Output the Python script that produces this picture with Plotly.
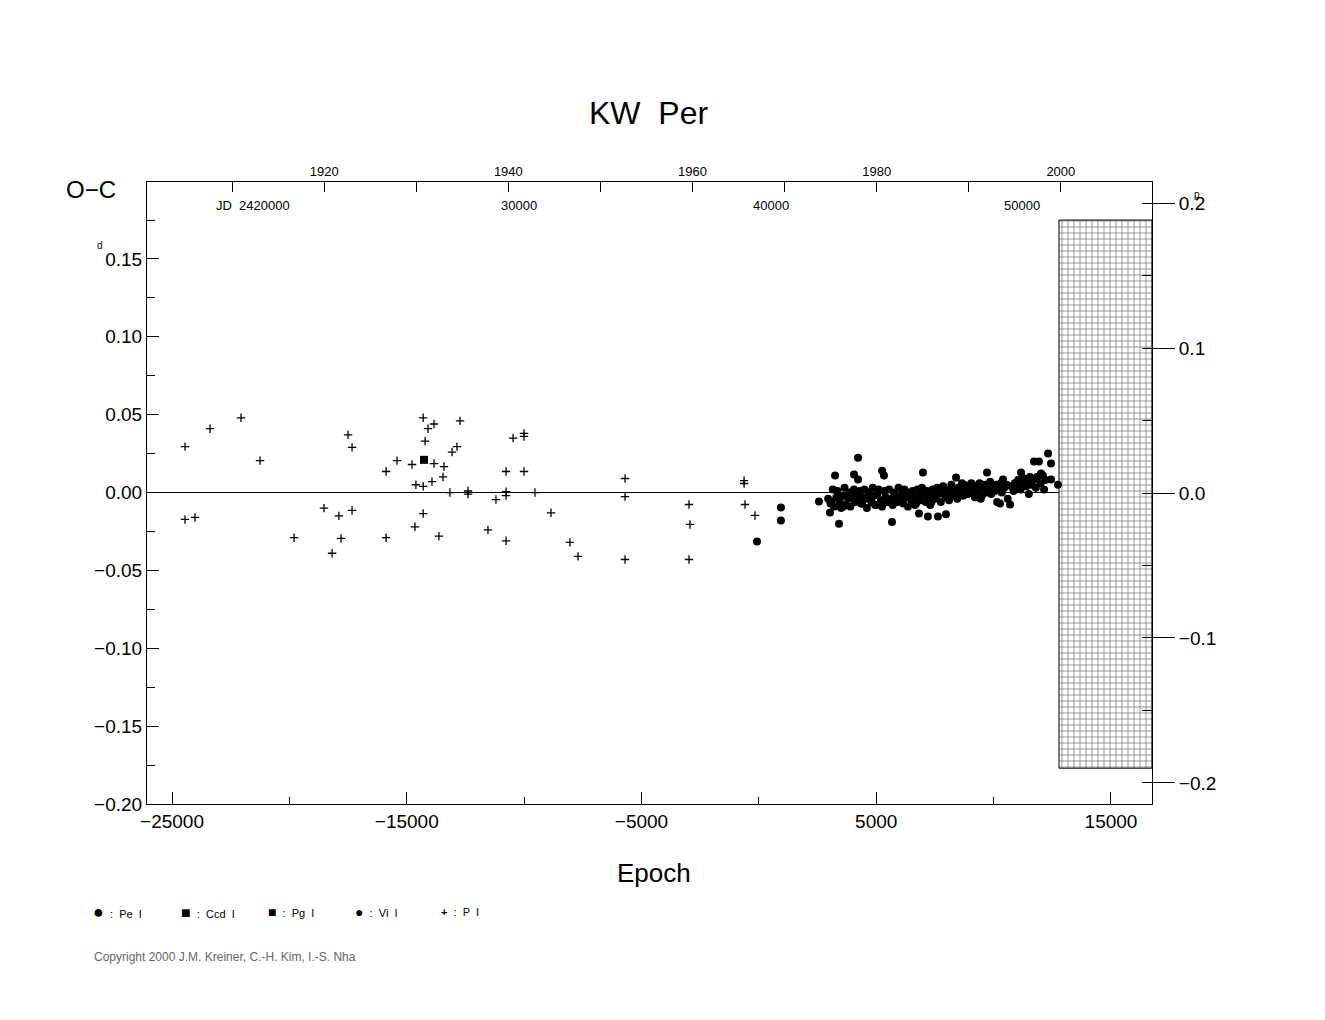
import plotly.graph_objects as go

# photographic (P) timings: epoch, O-C [d]
p_epoch = [-24446, -24446, -24020, -23380, -22060, -21250, -19800, -18525, -18180, -17890,
           -17800, -17500, -17330, -17330, -15880, -15880, -15415, -14775, -14650, -14610,
           -14300, -14300, -14300, -14220, -14095, -13925, -13840, -13840, -13630, -13455,
           -13415, -13160, -13070, -12860, -12730, -12390, -12390, -11540, -11200, -10770,
           -10770, -10770, -10770, -10470, -10005, -10005, -10005, -9540, -8855, -8050,
           -7705, -5700, -5700, -5700, -2975, -2935, -2975, -630, -630, -590, -165]
p_oc = [0.0295, -0.0173, -0.016, 0.041, 0.048, 0.0205, -0.029, -0.010, -0.039, -0.015,
        -0.0295, 0.037, 0.029, -0.0115, 0.0135, -0.029, 0.0205, 0.018, -0.022, 0.005,
        0.048, 0.004, -0.0135, 0.033, 0.041, 0.007, 0.044, 0.0186, -0.028, 0.010,
        0.0167, 0.0, 0.026, 0.0295, 0.046, 0.001, -0.001, -0.024, -0.0045, 0.0006,
        0.0135, -0.031, -0.002, 0.035, 0.038, 0.036, 0.0135, 0.0, -0.013, -0.032,
        -0.041, 0.009, -0.0026, -0.043, -0.0077, -0.0205, -0.043, 0.0077, 0.0058, -0.0077, -0.0147]

# CCD timing
ccd_epoch = [-14265]
ccd_oc = [0.021]

# photoelectric (Pe) timings
pe_epoch = [-80, 940, 940, 2560, 4225, 3245, 4055, 4225, 5250, 5330, 6990, 5670, 3415, 3030,
            6820, 7200, 7630, 7970, 8400, 9720, 10400, 10270, 10700, 11170, 11720, 11930,
            12320, 12445, 12020, 12445, 12740,
            2950, 3050, 3150, 3200, 3300, 3350, 3450, 3500, 3600, 3650, 3700, 3800, 3850,
            3900, 4000, 4050, 4100, 4150, 4250, 4300, 4400, 4450, 4500, 4600, 4650, 4700,
            4800, 4850, 4900, 5000, 5050, 5100, 5200, 5250, 5350, 5400, 5450, 5550, 5600,
            5700, 5750, 5800, 5900, 5950, 6000, 6100, 6150, 6200, 6300, 6350, 6400, 6500,
            6550, 6600, 6700, 6750, 6850, 6900, 6950, 7050, 7100, 7150, 7250, 7300, 7400,
            7450, 7500, 7600, 7650, 7750, 7800, 7850, 7950, 8000, 8100, 8150, 8200, 8300,
            8350, 8450, 8500, 8550, 8650, 8700, 8800, 8850, 8900, 9000, 9050, 9150, 9200,
            9250, 9350, 9400, 9500, 9550, 9600, 9700, 9750, 9850, 9900, 9950, 10050, 10100,
            10200, 10300, 10350, 10450, 10550, 10600, 10750, 10850, 10900, 11000, 11050,
            11150, 11250, 11300, 11400, 11450, 11550, 11600, 11700, 11800, 11850, 12000,
            12100, 12200, 3100, 3600, 4350, 4950, 5500, 6050, 6650, 7350, 8050, 8750,
            9450, 10150, 10950, 11500, 12150]
pe_oc = [-0.0314, -0.0096, -0.018, -0.0058, 0.0224, 0.011, 0.0115, 0.0083, 0.014, 0.011,
         0.0128, -0.019, -0.020, -0.0128, -0.0135, -0.0154, -0.0154, -0.014, 0.0096, 0.0128,
         0.0083, -0.007, -0.0077, 0.0128, 0.0199, 0.0199, 0.025, 0.0186, 0.0122, 0.0083, 0.005,
         -0.004, -0.007, 0.002, -0.009, -0.003, 0.001, -0.006, -0.010, -0.002, 0.003,
         -0.008, -0.004, 0.000, -0.009, -0.002, 0.002, -0.006, -0.001, -0.005, 0.001,
         -0.007, -0.003, 0.002, -0.010, -0.004, 0.000, -0.006, 0.003, -0.002, -0.008,
         -0.001, 0.002, -0.005, -0.009, 0.001, -0.003, -0.006, 0.002, -0.004, -0.008,
         0.000, -0.002, -0.006, 0.003, -0.004, -0.001, -0.007, 0.002, -0.003, -0.009,
         0.000, -0.005, 0.001, -0.003, -0.007, 0.002, -0.002, -0.005, 0.003, -0.001,
         -0.006, 0.001, -0.003, -0.008, 0.002, -0.002, -0.004, 0.003, -0.001, -0.006,
         0.000, 0.004, -0.003, 0.001, -0.005, 0.002, 0.005, -0.002, 0.001, -0.004,
         0.003, 0.000, 0.006, -0.002, 0.002, 0.004, -0.001, 0.003, 0.006, 0.000,
         -0.003, 0.004, 0.001, 0.006, -0.002, 0.003, 0.005, 0.000, 0.002, 0.007,
         -0.001, 0.004, 0.001, 0.005, 0.002, 0.006, 0.000, 0.003, 0.005, -0.004,
         0.004, 0.001, 0.006, 0.003, 0.008, 0.002, 0.005, 0.009, 0.004, 0.007,
         0.010, 0.005, 0.008, 0.003, 0.010, 0.006, 0.011, 0.008, -0.006, -0.009,
         -0.007, -0.008, -0.006, -0.005, -0.008, -0.006, -0.003, 0.005, -0.004, -0.006,
         0.006, -0.001, 0.002]

x_range = [-26065, 16747]
hatch_x = [12785, 16747, 16747, 12785, 12785]
hatch_y = [0.175, 0.175, -0.177, -0.177, 0.175]

font = "Liberation Sans"
fig = go.Figure()

fig.add_trace(go.Scatter(x=hatch_x, y=hatch_y, mode="lines", fill="toself",
                         fillcolor="white", line=dict(color="black", width=1),
                         fillpattern=dict(shape="+", size=6, solidity=0.25,
                                          fgcolor="black", bgcolor="white"),
                         hoverinfo="skip"))
fig.add_trace(go.Scatter(x=[x_range[0], 12785], y=[0, 0], mode="lines",
                         line=dict(color="black", width=1), hoverinfo="skip"))
fig.add_trace(go.Scatter(x=p_epoch, y=p_oc, mode="markers", name="P",
                         marker=dict(symbol="cross-thin", size=6, color="black",
                                     line=dict(color="black", width=1.3))))
fig.add_trace(go.Scatter(x=ccd_epoch, y=ccd_oc, mode="markers", name="Ccd",
                         marker=dict(symbol="square", size=8, color="black")))
fig.add_trace(go.Scatter(x=pe_epoch, y=pe_oc, mode="markers", name="Pe",
                         marker=dict(symbol="circle", size=8, color="black")))
# dummy traces to activate secondary axes
fig.add_trace(go.Scatter(x=[1950], y=[None], xaxis="x2", yaxis="y", showlegend=False))
fig.add_trace(go.Scatter(x=[0], y=[None], xaxis="x", yaxis="y2", showlegend=False))

tickfont = dict(family=font, size=19, color="black")
fig.update_layout(
    width=1325, height=1020,
    margin=dict(l=139, r=181, t=174, b=224),
    paper_bgcolor="white", plot_bgcolor="white",
    showlegend=False,
    font=dict(family=font, color="black"),
    xaxis=dict(range=x_range, tickvals=[-25000, -15000, -5000, 5000, 15000],
               ticktext=["\u221225000", "\u221215000", "\u22125000", "5000", "15000"],
               ticks="inside", ticklen=12, tickcolor="black",
               minor=dict(dtick=5000, tick0=0, ticks="inside", ticklen=7, tickcolor="black"),
               showgrid=False, zeroline=False, showline=True, linecolor="black",
               mirror=False, tickfont=tickfont),
    xaxis2=dict(range=[1900.76, 2009.9], overlaying="x", side="top",
                tickvals=[1920, 1940, 1960, 1980, 2000], ticks="inside", ticklen=10,
                tickcolor="black",
                minor=dict(dtick=10, tick0=1900, ticks="inside", ticklen=10, tickcolor="black"),
                showgrid=False, zeroline=False, showline=True, linecolor="black",
                tickfont=dict(family=font, size=13, color="black")),
    yaxis=dict(range=[-0.2, 0.1994], tickvals=[-0.2, -0.15, -0.1, -0.05, 0, 0.05, 0.1, 0.15],
               ticktext=["\u22120.20", "\u22120.15", "\u22120.10", "\u22120.05", "0.00",
                         "0.05", "0.10", "0.15"],
               ticks="inside", ticklen=12, tickcolor="black",
               minor=dict(dtick=0.025, tick0=0, ticks="inside", ticklen=8, tickcolor="black"),
               showgrid=False, zeroline=False, showline=True, linecolor="black",
               tickfont=tickfont),
    yaxis2=dict(range=[-0.2145, 0.2145], overlaying="y", side="right",
                tickvals=[-0.2, -0.1, 0, 0.1, 0.2],
                ticktext=["\u22120.2", "\u22120.1", "0.0", "0.1", "0.2"],
                ticks="outside", ticklen=22, tickcolor="black",
                minor=dict(dtick=0.05, tick0=0, ticks="inside", ticklen=10, tickcolor="black"),
                showgrid=False, zeroline=False, showline=True, linecolor="black",
                tickfont=tickfont),
)

def note(text, x, y, size, anchor="center", color="black"):
    fig.add_annotation(text=text, x=(x - 146) / 1005, y=(803 - y) / 622,
                       xref="paper", yref="paper", showarrow=False, xanchor=anchor,
                       yanchor="middle", font=dict(family=font, size=size, color=color))

note("KW  Per", 647, 112, 32)
note("O\u2212C", 90, 188, 24)
note("d", 99, 245, 10)
note("p", 1196, 193, 10)
note("Epoch", 653, 872, 26)
note("JD  2420000", 252, 205, 13)
note("30000", 518, 205, 13)
note("40000", 770, 205, 13)
note("50000", 1021, 205, 13)
note("<span style='font-size:18px'>\u25CF</span>  :  Pe  I", 90, 911, 11, anchor="left")
note("<span style='font-size:16px'>\u25A0</span>  :  Ccd  I", 178, 911, 11, anchor="left")
note("<span style='font-size:14px'>\u25A0</span>  :  Pg  I", 265, 911, 11, anchor="left")
note("<span style='font-size:14px'>\u25CF</span>  :  Vi  I", 352, 911, 11, anchor="left")
note("<b>+</b>  :  P  I", 438, 911, 11, anchor="left")
note("Copyright 2000 J.M. Kreiner, C.-H. Kim, I.-S. Nha", 91, 956, 12, anchor="left",
     color="#666666")

fig.write_html("out.html")
